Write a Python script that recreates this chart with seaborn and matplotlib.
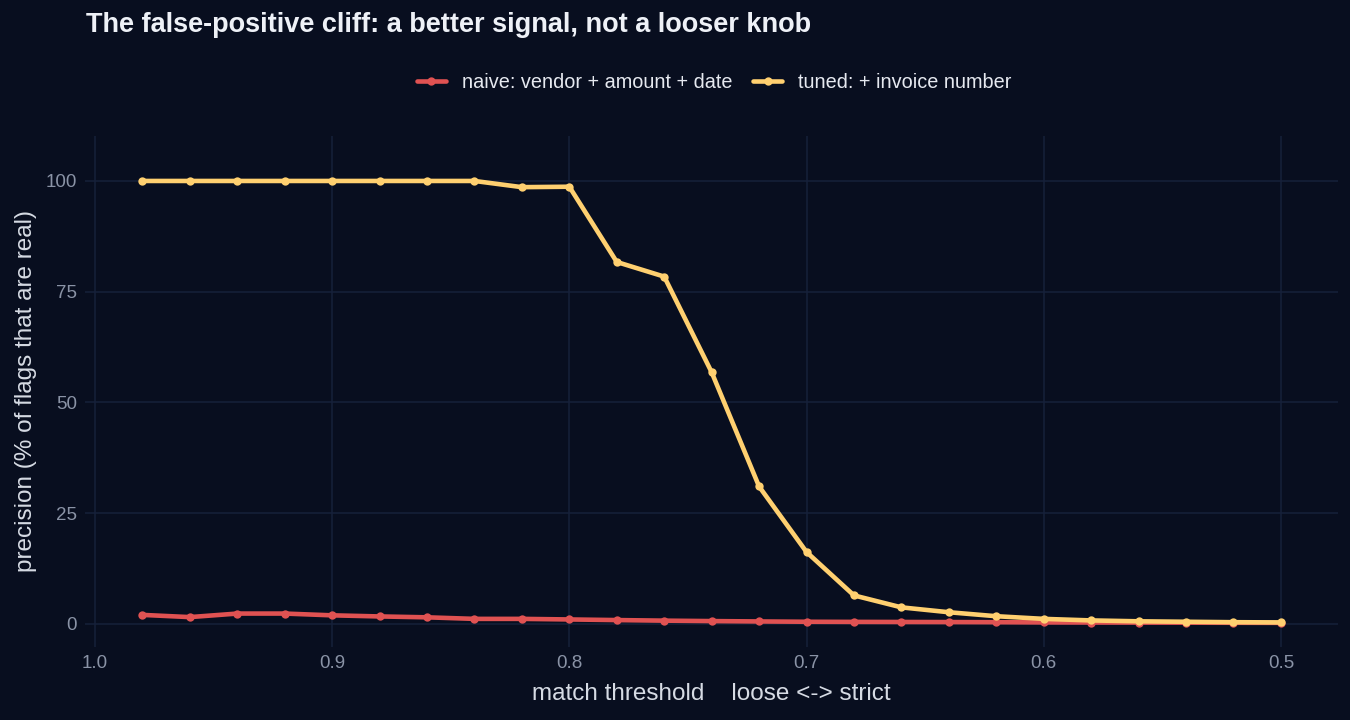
import numpy as np
import pandas as pd
import matplotlib
matplotlib.use("Agg")
import matplotlib.pyplot as plt
import seaborn as sns

thresholds = [0.98, 0.96, 0.94, 0.92, 0.90, 0.88, 0.86, 0.84, 0.82, 0.80, 0.78, 0.76, 0.74,
              0.72, 0.70, 0.68, 0.66, 0.64, 0.62, 0.60, 0.58, 0.56, 0.54, 0.52, 0.50]
naive = [2.0, 1.5, 2.3, 2.3, 1.9, 1.65, 1.45, 1.1, 1.1, 0.97, 0.83, 0.7, 0.6,
         0.52, 0.45, 0.42, 0.4, 0.38, 0.35, 0.3, 0.28, 0.26, 0.24, 0.22, 0.2]
tuned = [100, 100, 100, 100, 100, 100, 100, 100, 98.6, 98.7, 81.7, 78.4, 56.8,
         31.0, 16.2, 6.4, 3.7, 2.6, 1.7, 1.1, 0.75, 0.55, 0.45, 0.35, 0.3]
series_names = ["naive: vendor + amount + date", "tuned: + invoice number"]
x_ticks = [1.0, 0.9, 0.8, 0.7, 0.6, 0.5]
x_tick_labels = ["1.0", "0.9", "0.8", "0.7", "0.6", "0.5"]
y_ticks = [0, 25, 50, 75, 100]

df = pd.DataFrame({
    "threshold": thresholds * 2,
    "precision": naive + tuned,
    "series": [series_names[0]] * len(thresholds) + [series_names[1]] * len(thresholds),
})

BG = "#080e1f"
GRID = "#16213a"
sns.set_theme(style="darkgrid")
plt.rcParams["font.family"] = ["Liberation Sans", "DejaVu Sans"]

fig = plt.figure(figsize=(13.5, 7.2), dpi=100, facecolor=BG)
ax = fig.add_axes([0.0633, 0.1014, 0.9277, 0.7103])
ax.set_facecolor(BG)

palette = {series_names[0]: "#e05252", series_names[1]: "#ffd070"}
sns.lineplot(data=df, x="threshold", y="precision", hue="series", palette=palette,
             marker="o", markersize=6, markeredgewidth=0, linewidth=3.3, ax=ax,
             legend=True)

ax.set_xlim(1.004, 0.476)
ax.set_ylim(-5.25, 110.25)
ax.set_xticks(x_ticks)
ax.set_xticklabels(x_tick_labels)
ax.set_yticks(y_ticks)
ax.grid(True, color=GRID, linewidth=1.1)
for s in ax.spines.values():
    s.set_visible(False)
ax.tick_params(axis="both", colors="#8a93a6", labelsize=13.5, length=0, pad=6)

ax.set_xlabel("match threshold    loose <-> strict", color="#d6dbe4", fontsize=17.5, labelpad=8)
ax.set_ylabel("precision (% of flags that are real)", color="#d6dbe4", fontsize=17.5, labelpad=6)

fig.text(0.064, 0.984, "The false-positive cliff: a better signal, not a looser knob",
         color="#eef1f7", fontsize=19.5, fontweight="bold", ha="left", va="top")

handles, labels = ax.get_legend_handles_labels()
ax.legend(handles, labels, loc="center", bbox_to_anchor=(0.529, 0.886),
          bbox_transform=fig.transFigure, ncol=2, frameon=False, fontsize=14.3,
          labelcolor="#e6e9f0", handlelength=1.5, columnspacing=1.0, handletextpad=0.8)

fig.savefig("out.png", dpi=100, facecolor=BG)
